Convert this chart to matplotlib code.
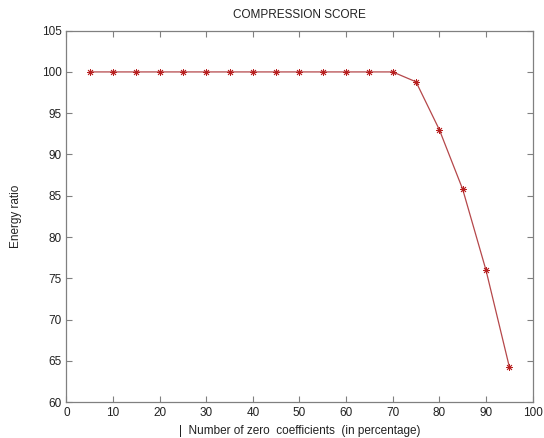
import matplotlib
matplotlib.use("Agg")
import matplotlib.pyplot as plt

plt.rcParams['font.family'] = ['Liberation Sans', 'DejaVu Sans']

zero_pct = [5, 10, 15, 20, 25, 30, 35, 40, 45, 50, 55, 60, 65, 70, 75, 80, 85, 90, 95]
energy_ratio = [100, 100, 100, 100, 100, 100, 100, 100, 100, 100, 100, 100, 100, 100,
                98.8, 93.0, 85.8, 76.0, 64.3]
x_ticks = [0, 10, 20, 30, 40, 50, 60, 70, 80, 90, 100]
y_ticks = [60, 65, 70, 75, 80, 85, 90, 95, 100, 105]

fig = plt.figure(figsize=(5.44, 4.38), dpi=100)
ax = fig.add_axes([0.122, 0.082, 0.857, 0.848])

ax.plot(zero_pct, energy_ratio, color='#b5474a', linewidth=0.9,
        marker=(8, 2, 0), markersize=5, markeredgecolor='#b82020',
        markeredgewidth=0.6)

ax.set_xlim(0, 100)
ax.set_ylim(60, 105)
ax.set_xticks(x_ticks)
ax.set_yticks(y_ticks)
ax.tick_params(direction='in', top=True, right=True, length=4, width=0.8,
               color='#808080', labelsize=8.5, labelcolor='#222222')
for s in ax.spines.values():
    s.set_color('#808080')
    s.set_linewidth(0.9)

ax.set_title('COMPRESSION SCORE', fontsize=8.5, color='#222222', pad=9)
ax.set_xlabel('|  Number of zero  coefficients  (in percentage)', fontsize=8.5,
              color='#222222', labelpad=4)
ax.set_ylabel('Energy ratio', fontsize=8.5, color='#222222', labelpad=14)

fig.savefig('out.png', dpi=100)
